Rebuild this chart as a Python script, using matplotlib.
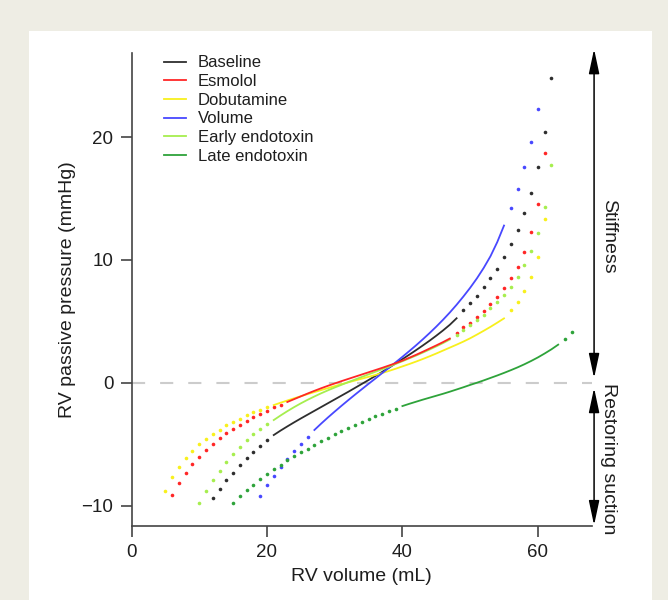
import numpy as np
import matplotlib
matplotlib.use('Agg')
import matplotlib.pyplot as plt
from matplotlib.patches import Rectangle

plt.rcParams['font.family'] = ['Liberation Sans', 'DejaVu Sans']

# RV passive pressure (mmHg) per 1 mL of RV volume.
# low / high = extrapolated part (dots), line = measured part (solid)
baseline_low = [-9.36, -8.63, -7.92, -7.33, -6.73, -6.16, -5.62, -5.15, -4.69]
baseline_line = [-4.26, -3.90, -3.56, -3.23, -2.91, -2.60, -2.29, -1.98, -1.67,
                 -1.36, -1.05, -0.74, -0.42, -0.10, 0.22, 0.55, 0.88, 1.22,
                 1.57, 1.92, 2.28, 2.65, 3.03, 3.42, 3.83, 4.26, 4.72, 5.25]
baseline_high = [5.92, 6.46, 7.09, 7.77, 8.50, 9.30, 10.20, 11.27, 12.43,
                 13.79, 15.47, 17.56, 20.41, 24.81]

esmolol_low = [-9.15, -8.14, -7.33, -6.62, -6.02, -5.48, -4.99, -4.53, -4.12,
               -3.80, -3.42, -3.09, -2.82, -2.55, -2.28, -2.00, -1.79]
esmolol_line = [-1.57, -1.34, -1.11, -0.88, -0.66, -0.45, -0.25, -0.06, 0.13,
                0.31, 0.49, 0.67, 0.85, 1.03, 1.21, 1.40, 1.59, 1.80, 2.03,
                2.27, 2.52, 2.78, 3.04, 3.31, 3.60]
esmolol_high = [4.07, 4.51, 4.89, 5.37, 5.86, 6.41, 7.00, 7.69, 8.50, 9.45,
                10.67, 12.25, 14.55, 18.73]

dobutamine_low = [-8.80, -7.71, -6.84, -6.16, -5.54, -5.00, -4.58, -4.18,
                  -3.82, -3.48, -3.20, -2.93, -2.66, -2.42, -2.20, -2.00]
dobutamine_line = [-1.82, -1.63, -1.45, -1.27, -1.10, -0.93, -0.76, -0.60,
                   -0.44, -0.28, -0.12, 0.03, 0.18, 0.33, 0.48, 0.63, 0.79,
                   0.96, 1.14, 1.33, 1.52, 1.72, 1.93, 2.15, 2.38, 2.62, 2.86,
                   3.10, 3.35, 3.62, 3.92, 4.23, 4.55, 4.89, 5.24]
dobutamine_high = [5.92, 6.60, 7.49, 8.58, 10.21, 13.33]

volume_low = [-9.20, -8.37, -7.62, -6.90, -6.22, -5.58, -4.99, -4.42]
volume_line = [-3.85, -3.33, -2.83, -2.35, -1.88, -1.42, -0.97, -0.53, -0.09,
               0.34, 0.78, 1.22, 1.66, 2.11, 2.57, 3.04, 3.53, 4.04, 4.57,
               5.13, 5.72, 6.35, 7.02, 7.73, 8.50, 9.35, 10.30, 11.45, 12.80]
volume_high = [14.25, 15.77, 17.54, 19.63, 22.26]

early_low = [-9.80, -8.80, -7.92, -7.16, -6.48, -5.82, -5.26, -4.68, -4.20,
             -3.80, -3.40]
early_line = [-3.04, -2.67, -2.32, -1.99, -1.68, -1.39, -1.12, -0.86, -0.62,
              -0.39, -0.17, 0.05, 0.26, 0.47, 0.68, 0.89, 1.10, 1.31, 1.53,
              1.75, 1.98, 2.21, 2.45, 2.70, 2.96, 3.23, 3.52]
early_high = [3.88, 4.29, 4.70, 5.10, 5.51, 6.06, 6.60, 7.14, 7.77, 8.63,
              9.58, 10.72, 12.21, 14.28, 17.70]

late_low = [-9.77, -9.23, -8.74, -8.31, -7.86, -7.44, -7.05, -6.67, -6.31,
            -5.97, -5.66, -5.36, -5.06, -4.76, -4.47, -4.20, -3.93, -3.69,
            -3.46, -3.22, -2.98, -2.74, -2.51, -2.30, -2.10]
late_line = [-1.90, -1.72, -1.55, -1.38, -1.22, -1.06, -0.90, -0.73, -0.55,
             -0.37, -0.18, 0.00, 0.19, 0.39, 0.59, 0.80, 1.02, 1.25, 1.50,
             1.77, 2.06, 2.38, 2.72, 3.10]
late_high = [3.60, 4.15]

labels = ['Baseline', 'Esmolol', 'Dobutamine', 'Volume', 'Early endotoxin',
          'Late endotoxin']
colors = ['#2e2e2e', '#ff2626', '#f8f01c', '#4848ff', '#a6ee4e', '#2ea33a']
# first volume (mL) of the low dots, the solid line and the high dots
starts = [(12, 21, 49), (6, 23, 48), (5, 21, 56), (19, 27, 56),
          (10, 21, 48), (15, 40, 64)]
curves = [(baseline_low, baseline_line, baseline_high),
          (esmolol_low, esmolol_line, esmolol_high),
          (dobutamine_low, dobutamine_line, dobutamine_high),
          (volume_low, volume_line, volume_high),
          (early_low, early_line, early_high),
          (late_low, late_line, late_high)]

x_ticks = [0, 20, 40, 60]
y_ticks = [-10, 0, 10, 20]


def vols(start, vals):
    return np.arange(start, start + len(vals))


def plot_pv():
    fig = plt.figure(figsize=(6.68, 6.0), dpi=100, facecolor='#eeede4')
    fig.add_artist(Rectangle((29 / 668, 0), 623 / 668, 569 / 600,
                             transform=fig.transFigure, facecolor='white',
                             edgecolor='none', zorder=-5))
    ax = fig.add_axes([0.1969, 0.1233, 0.6894, 0.7883])
    ax.patch.set_alpha(0)

    ax.axhline(0, color='#cccccc', lw=1.5, dashes=(6.3, 7.2), zorder=1)

    for label, color, (s_lo, s_ln, s_hi), (lo, ln, hi) in zip(
            labels, colors, starts, curves):
        ax.plot(vols(s_lo, lo), lo, 'o', ms=2.6, color=color, mec='none')
        ax.plot(vols(s_ln, ln), ln, '-', lw=1.3, color=color, label=label,
                zorder=3 if label == 'Esmolol' else 2)
        ax.plot(vols(s_hi, hi), hi, 'o', ms=2.6, color=color, mec='none')

    ax.set_xlim(0, 68)
    ax.set_ylim(-11.67, 26.85)
    ax.set_xticks(x_ticks)
    ax.set_yticks(y_ticks)
    for side in ['top', 'right']:
        ax.spines[side].set_visible(False)
    for side in ['left', 'bottom']:
        ax.spines[side].set_color('#444444')
        ax.spines[side].set_linewidth(1.2)
    ax.tick_params(length=8, width=1.2, pad=5, color='#444444',
                   labelsize=13.5, labelcolor='#1e1e1e')
    ax.set_xlabel('RV volume (mL)', fontsize=14, color='#1e1e1e', labelpad=5)
    ax.set_ylabel('RV passive pressure (mmHg)', fontsize=14, color='#1e1e1e',
                  labelpad=4)

    ax.legend(loc='upper left', bbox_to_anchor=(0.07, 0.995), frameon=False,
              fontsize=12, handlelength=1.32, handletextpad=0.72,
              labelspacing=0.22, borderpad=0, borderaxespad=0,
              labelcolor='#1e1e1e')

    # stiffness / restoring suction arrows on the right
    arrow = dict(arrowstyle='<|-|>,head_length=1.5,head_width=0.32',
                 mutation_scale=10, color='black', lw=1.1,
                 shrinkA=0, shrinkB=0)
    ax.annotate('', xy=(68.3, 27.17), xytext=(68.3, 0.38), arrowprops=arrow,
                annotation_clip=False)
    ax.annotate('', xy=(68.3, -0.43), xytext=(68.3, -11.6), arrowprops=arrow,
                annotation_clip=False)
    ax.text(70.4, 11.9, 'Stiffness', rotation=-90, ha='center', va='center',
            fontsize=14, color='#1e1e1e', clip_on=False)
    ax.text(70.4, -0.05, 'Restoring suction', rotation=-90, ha='center',
            va='top', fontsize=14, color='#1e1e1e', clip_on=False)

    fig.savefig('out.png', dpi=100, facecolor=fig.get_facecolor())


if __name__ == "__main__":
    plot_pv()
